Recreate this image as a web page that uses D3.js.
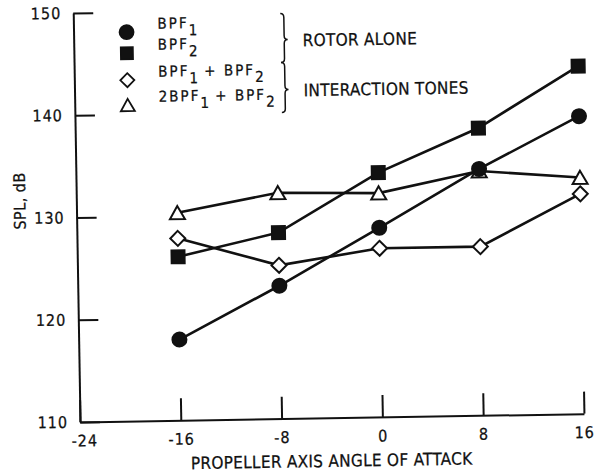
<!DOCTYPE html>
<html>
<head>
<meta charset="utf-8">
<script src="https://cdn.jsdelivr.net/npm/d3@7"></script>
<style>
    body { margin: 0; background: #fff; }
    text { font-family: "DejaVu Sans Condensed", "Liberation Sans Narrow", sans-serif; fill: #111; stroke: #111; stroke-width: 0.25px; }
</style>
</head>
<body>
<div id="chart"></div>
<script>
// Chart data (SPL in dB at each propeller axis angle of attack)
const angles = [-16, -8, 0, 8, 16];
const bpf1 = [117.9, 123.0, 128.5, 134.1, 139.1];
const bpf2 = [126.0, 128.2, 133.9, 138.1, 144.0];
const bpf1PlusBpf2 = [127.8, 125.0, 126.5, 126.5, 131.5];
const twoBpf1PlusBpf2 = [130.3, 132.1, 131.9, 133.9, 133.1];

const xTicks = [-24, -16, -8, 0, 8, 16];
const yTicks = [110, 120, 130, 140, 150];

const X_LABEL = "PROPELLER AXIS ANGLE OF ATTACK";
const Y_LABEL = "SPL, dB";
const GROUP_LABELS = ["ROTOR ALONE", "INTERACTION TONES"];

// legend labels: pairs of [text, subscript]
const legendLabels = [
    [["BPF", "1"]],
    [["BPF", "2"]],
    [["BPF", "1"], [" + BPF", "2"]],
    [["2BPF", "1"], [" + BPF", "2"]]
];

const WIDTH = 603;
const HEIGHT = 476;

const svg = d3.select("#chart")
    .append("svg")
    .attr("width", WIDTH)
    .attr("height", HEIGHT);

// The scanned figure is tilted slightly
const root = svg.append("g")
    .attr("transform", "rotate(-0.95, 80, 422)");

const x = d3.scaleLinear().domain([-24, 16]).range([80, 584]);
const y = d3.scaleLinear().domain([110, 150]).range([422, 13]);

// Axes
const yAxis = root.append("g")
    .attr("transform", "translate(80,0)")
    .call(d3.axisLeft(y)
        .tickValues(yTicks)
        .tickSize(-20)
        .tickSizeOuter(0)
        .tickPadding(12)
        .tickFormat(d => String(d)));

const xAxis = root.append("g")
    .attr("transform", "translate(0,422)")
    .call(d3.axisBottom(x)
        .tickValues(xTicks)
        .tickSize(-22)
        .tickSizeOuter(0)
        .tickPadding(13)
        .tickFormat(d => String(d)));

[xAxis, yAxis].forEach(a => {
    a.select(".domain").attr("stroke", "#111").attr("stroke-width", 2);
    a.selectAll(".tick line").attr("stroke", "#111").attr("stroke-width", 2);
    a.selectAll(".tick text")
        .attr("fill", "#111")
        .style("font-size", "16px")
        .style("letter-spacing", "1px");
});
xAxis.select(".tick text").attr("dx", "4");

// Axis labels
root.append("text")
    .attr("x", 331)
    .attr("y", 471)
    .attr("text-anchor", "middle")
    .style("font-size", "17px")
    .style("letter-spacing", "0.3px")
    .text(X_LABEL);

root.append("text")
    .attr("transform", "translate(29,200) rotate(-90)")
    .attr("text-anchor", "middle")
    .style("font-size", "16px")
    .style("letter-spacing", "0.5px")
    .text(Y_LABEL);

// Marker shapes
const markers = {
    circle: s => `M${s},0A${s},${s} 0 1,1 ${-s},0A${s},${s} 0 1,1 ${s},0Z`,
    square: s => `M${-s},${-s}H${s}V${s}H${-s}Z`,
    diamond: s => `M0,${-s}L${s},0L0,${s}L${-s},0Z`,
    triangle: s => `M0,${-s * 0.9}L${s},${s * 0.85}L${-s},${s * 0.85}Z`
};

const series = [
    { values: twoBpf1PlusBpf2, shape: "triangle", size: 7.5, filled: false },
    { values: bpf1PlusBpf2, shape: "diamond", size: 7.5, filled: false },
    { values: bpf2, shape: "square", size: 6.5, filled: true },
    { values: bpf1, shape: "circle", size: 7, filled: true }
];

const line = d3.line()
    .x((d, i) => x(angles[i]))
    .y(d => y(d));

// lines first, then markers on top
series.forEach(s => {
    root.append("path")
        .attr("d", line(s.values))
        .attr("fill", "none")
        .attr("stroke", "#111")
        .attr("stroke-width", 2.6);
});

series.forEach(s => {
    root.selectAll(null)
        .data(s.values)
        .enter()
        .append("path")
        .attr("transform", (d, i) => `translate(${x(angles[i])},${y(d)})`)
        .attr("d", markers[s.shape](s.size))
        .attr("fill", s.filled ? "#111" : "#fff")
        .attr("stroke", "#111")
        .attr("stroke-width", 2);
});

// Legend
const legendRows = [
    { shape: "circle", size: 7, filled: true, cy: 33 },
    { shape: "square", size: 6, filled: true, cy: 54 },
    { shape: "diamond", size: 7, filled: false, cy: 81 },
    { shape: "triangle", size: 7, filled: false, cy: 106 }
];

legendRows.forEach((row, i) => {
    root.append("path")
        .attr("transform", `translate(133,${row.cy})`)
        .attr("d", markers[row.shape](row.size))
        .attr("fill", row.filled ? "#111" : "#fff")
        .attr("stroke", "#111")
        .attr("stroke-width", 1.8);

    const label = root.append("text")
        .attr("x", 164)
        .attr("y", row.cy + 4)
        .style("font-size", "15px")
        .style("letter-spacing", "2px");

    legendLabels[i].forEach(([main, sub]) => {
        label.append("tspan")
            .attr("dy", label.selectAll("tspan").size() ? -7 : 0)
            .style("font-size", "15px")
            .text(main);
        label.append("tspan")
            .attr("dy", 7)
            .style("font-size", "15px")
            .style("letter-spacing", "0px")
            .text(sub);
    });
});

// Braces grouping the legend
function brace(x0, top, bottom, tip) {
    const w = 3.5, r = 4;
    return `M${x0},${top}Q${x0 + w},${top} ${x0 + w},${top + r}`
        + `L${x0 + w},${tip - r}Q${x0 + w},${tip} ${x0 + 2 * w},${tip}`
        + `Q${x0 + w},${tip} ${x0 + w},${tip + r}`
        + `L${x0 + w},${bottom - r}Q${x0 + w},${bottom} ${x0},${bottom}`;
}

[[17, 66, 43], [66, 116, 93]].forEach(([t, b, m], i) => {
    root.append("path")
        .attr("d", brace(287, t, b, m))
        .attr("fill", "none")
        .attr("stroke", "#111")
        .attr("stroke-width", 1.5);

    root.append("text")
        .attr("x", 309)
        .attr("y", m + 7)
        .style("font-size", "17px")
        .style("letter-spacing", "0.3px")
        .text(GROUP_LABELS[i]);
});
</script>
</body>
</html>
